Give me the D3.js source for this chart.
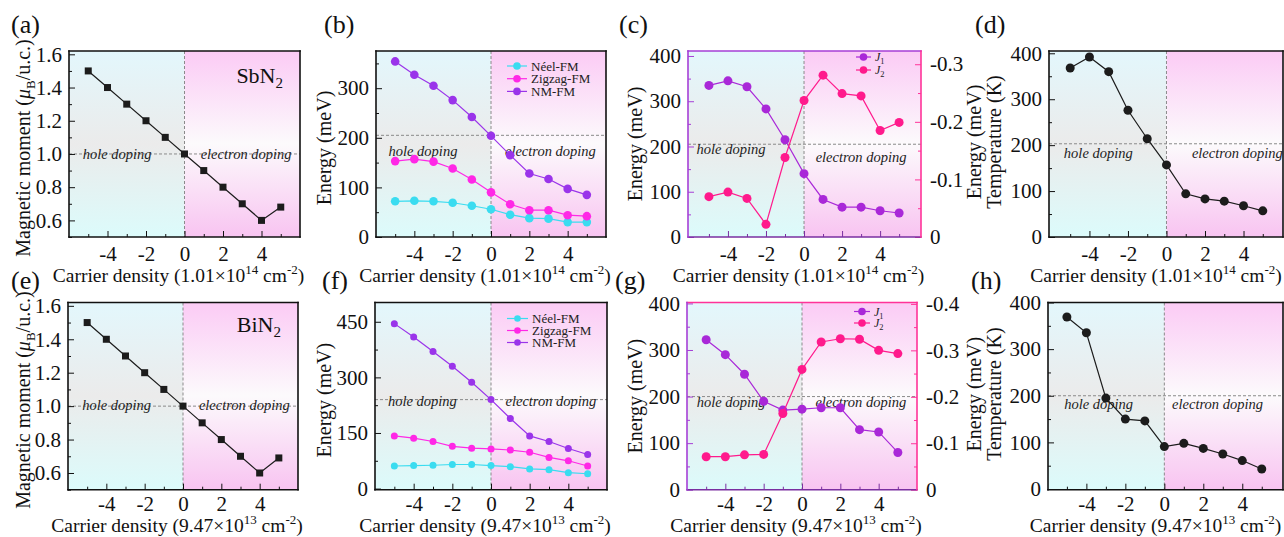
<!DOCTYPE html>
<html>
<head>
<meta charset="utf-8">
<script src="https://cdn.jsdelivr.net/npm/d3@7"></script>
<style>
  body { margin: 0; background: #fff; }
</style>
</head>
<body>
<svg id="fig" width="1284" height="537" font-family="'Liberation Serif', 'Times New Roman', serif"></svg>
<script>
// carrier density steps (same for every panel)
const carrierX = [-5, -4, -3, -2, -1, 0, 1, 2, 3, 4, 5];

// SbN2 (top row)
const momentSb = [1.5, 1.4, 1.3, 1.2, 1.1, 1.0, 0.9, 0.8, 0.7, 0.6, 0.68];
const neelSb   = [72, 73, 72, 69, 63, 56, 45, 38, 37, 30, 30];
const zigzagSb = [153, 157, 152, 138, 116, 90, 66, 54, 54, 44, 42];
const nmSb     = [354, 327, 305, 276, 242, 204, 165, 128, 117, 97, 85];
const j1Sb     = [335, 345, 332, 283, 215, 140, 83, 66, 66, 58, 53];
const j2Sb     = [-0.070, -0.078, -0.067, -0.022, -0.138, -0.237, -0.281, -0.249, -0.245, -0.185, -0.199];
const tcSb     = [368, 392, 360, 276, 214, 157, 94, 83, 78, 68, 57];

// BiN2 (bottom row)
const momentBi = [1.5, 1.4, 1.3, 1.2, 1.1, 1.0, 0.9, 0.8, 0.7, 0.6, 0.69];
const neelBi   = [61, 62, 63, 65, 65, 62, 59, 53, 51, 43, 40];
const zigzagBi = [142, 136, 127, 114, 109, 107, 104, 98, 84, 75, 61];
const nmBi     = [445, 409, 370, 330, 287, 240, 189, 142, 127, 108, 92];
const j1Bi     = [322, 290, 248, 190, 171, 173, 176, 176, 129, 124, 80];
const j2Bi     = [-0.071, -0.071, -0.075, -0.076, -0.164, -0.259, -0.318, -0.325, -0.324, -0.300, -0.293];
const tcBi     = [369, 335, 195, 150, 146, 91, 98, 87, 75, 61, 43];

// tick values
const xMajor = [-4, -2, 0, 2, 4];
const xMinor = [-5, -3, -1, 1, 3, 5];
const momentTicks = [0.6, 0.8, 1.0, 1.2, 1.4, 1.6];
const momentMinor = [0.5, 0.7, 0.9, 1.1, 1.3, 1.5];
const energyTicksB = [0, 100, 200, 300];
const energyMinorB = [50, 150, 250, 350];
const energyTicksF = [0, 150, 300, 450];
const energyMinorF = [75, 225, 375];
const energyTicks4 = [0, 100, 200, 300, 400];
const energyMinor4 = [50, 150, 250, 350];
const jTicksC = [0, -0.1, -0.2, -0.3];
const jMinorC = [-0.05, -0.15, -0.25];
const jTicksG = [0, -0.1, -0.2, -0.3, -0.4];
const jMinorG = [-0.05, -0.15, -0.25, -0.35];

const SERIF = "'Liberation Serif', 'Times New Roman', serif";
const svg = d3.select('#fig');
const defs = svg.append('defs');

// background gradients (hole side / electron side)
const gHole = defs.append('linearGradient').attr('id', 'bgHole')
    .attr('x1', 0).attr('x2', 0).attr('y1', 0).attr('y2', 1);
[['0%', '#e3f7fc'], ['50%', '#ebebeb'], ['100%', '#dcfbfb']].forEach(s =>
  gHole.append('stop').attr('offset', s[0]).attr('stop-color', s[1]));
const gElec = defs.append('linearGradient').attr('id', 'bgElec')
    .attr('x1', 0).attr('x2', 0).attr('y1', 0).attr('y2', 1);
[['0%', '#fbcbf5'], ['50%', '#fcfafc'], ['100%', '#f8c4f1']].forEach(s =>
  gElec.append('stop').attr('offset', s[0]).attr('stop-color', s[1]));

const COL = {
  neel: '#3adcf0',
  zig: '#ff28e6',
  nm: '#9a34ea',
  j1: '#a928d8',
  j2: '#ff1a8c',
  black: '#1c1c1c'
};

function fmt1(d) { return d.toFixed(1); }
function fmtInt(d) { return String(d); }

function addText(g) {
  return g.append('text').attr('font-family', SERIF);
}

function xTitle(g, cx, y, base, exp) {
  const t = addText(g).attr('x', cx).attr('y', y)
      .attr('text-anchor', 'middle').attr('font-size', 19.5).attr('fill', '#111');
  t.append('tspan').text('Carrier density (' + base + '\u00d710');
  t.append('tspan').attr('font-size', 13).attr('dy', -8).text(exp);
  t.append('tspan').attr('dy', 8).text(' cm');
  t.append('tspan').attr('font-size', 13).attr('dy', -8).text('-2');
  t.append('tspan').attr('dy', 8).text(')');
}

function drawPanel(c) {
  const g = svg.append('g');
  const x = d3.scaleLinear().domain(c.xDomain || [-6, 6]).range([c.left, c.right]);
  const y = d3.scaleLinear().domain(c.yDomain).range([c.bottom, c.top]);
  const yR = c.yRDomain ? d3.scaleLinear().domain(c.yRDomain).range([c.bottom, c.top]) : null;
  const x0 = x(0);

  // backgrounds
  g.append('rect').attr('x', c.left).attr('y', c.top)
      .attr('width', x0 - c.left).attr('height', c.bottom - c.top).attr('fill', 'url(#bgHole)');
  g.append('rect').attr('x', x0).attr('y', c.top)
      .attr('width', c.right - x0).attr('height', c.bottom - c.top).attr('fill', 'url(#bgElec)');

  // dashed guides
  g.append('line').attr('x1', x0).attr('x2', x0).attr('y1', c.top).attr('y2', c.bottom)
      .attr('stroke', '#8a8a8a').attr('stroke-width', 1).attr('stroke-dasharray', '3,2');
  g.append('line').attr('x1', c.left).attr('x2', c.right).attr('y1', y(c.dashY)).attr('y2', y(c.dashY))
      .attr('stroke', '#8a8a8a').attr('stroke-width', 1).attr('stroke-dasharray', '3,2');

  // region labels
  addText(g).attr('x', x(c.holeX)).attr('y', y(c.holeY)).attr('dy', '0.35em')
      .attr('text-anchor', 'middle').attr('font-style', 'italic').attr('font-size', 14.5)
      .attr('fill', '#222').text('hole doping');
  addText(g).attr('x', x(c.elecX)).attr('y', y(c.elecY)).attr('dy', '0.35em')
      .attr('text-anchor', 'middle').attr('font-style', 'italic').attr('font-size', 14.5)
      .attr('fill', '#222').text('electron doping');

  // series
  c.series.forEach(s => {
    const sc = s.right ? yR : y;
    const pts = carrierX.map((v, i) => [v, s.values[i]]);
    g.append('path').datum(pts)
        .attr('fill', 'none').attr('stroke', s.color).attr('stroke-width', 1.2)
        .attr('d', d3.line().x(d => x(d[0])).y(d => sc(d[1])));
    if (s.square) {
      g.selectAll(null).data(pts).join('rect')
          .attr('x', d => x(d[0]) - s.size / 2).attr('y', d => sc(d[1]) - s.size / 2)
          .attr('width', s.size).attr('height', s.size).attr('fill', s.color);
    } else {
      g.selectAll(null).data(pts).join('circle')
          .attr('cx', d => x(d[0])).attr('cy', d => sc(d[1])).attr('r', s.size)
          .attr('fill', s.color);
    }
  });

  // axes (ticks pointing inward)
  const tickFont = (sel) => {
    sel.attr('font-family', SERIF).attr('font-size', 21);
    sel.selectAll('text').attr('fill', '#111');
  };
  const bottomCol = c.bottomColor || '#111';
  const gx = g.append('g').attr('transform', `translate(0,${c.bottom})`)
      .call(d3.axisBottom(x).tickValues(xMajor).tickSize(-6).tickPadding(c.xPad).tickFormat(fmtInt));
  gx.call(tickFont);
  gx.select('.domain').remove();
  gx.selectAll('line').attr('stroke', bottomCol);
  const gxm = g.append('g').attr('transform', `translate(0,${c.bottom})`)
      .call(d3.axisBottom(x).tickValues(xMinor).tickSize(-3).tickFormat(''));
  gxm.select('.domain').remove();
  gxm.selectAll('line').attr('stroke', bottomCol);

  const leftCol = c.leftColor || '#111';
  const gy = g.append('g').attr('transform', `translate(${c.left},0)`)
      .call(d3.axisLeft(y).tickValues(c.yTicks).tickSize(-6).tickPadding(7).tickFormat(c.yFmt));
  gy.call(tickFont);
  gy.select('.domain').remove();
  gy.selectAll('line').attr('stroke', leftCol);
  const gym = g.append('g').attr('transform', `translate(${c.left},0)`)
      .call(d3.axisLeft(y).tickValues(c.yMinor).tickSize(-3).tickFormat(''));
  gym.select('.domain').remove();
  gym.selectAll('line').attr('stroke', leftCol);

  if (yR) {
    const gr = g.append('g').attr('transform', `translate(${c.right},0)`)
        .call(d3.axisRight(yR).tickValues(c.yRTicks).tickSize(-6).tickPadding(9).tickFormat(fmtInt));
    gr.call(tickFont);
    gr.select('.domain').remove();
    gr.selectAll('line').attr('stroke', c.rightColor);
    const grm = g.append('g').attr('transform', `translate(${c.right},0)`)
        .call(d3.axisRight(yR).tickValues(c.yRMinor).tickSize(-3).tickFormat(''));
    grm.select('.domain').remove();
    grm.selectAll('line').attr('stroke', c.rightColor);
  }

  // frame
  const frame = [
    [c.left, c.top, c.right, c.top, c.topColor || '#111'],
    [c.left, c.bottom, c.right, c.bottom, bottomCol],
    [c.left, c.top, c.left, c.bottom, leftCol],
    [c.right, c.top, c.right, c.bottom, c.rightColor || '#111']
  ];
  frame.forEach(f => g.append('line')
      .attr('x1', f[0]).attr('y1', f[1]).attr('x2', f[2]).attr('y2', f[3])
      .attr('stroke', f[4]).attr('stroke-width', 1.6).attr('stroke-linecap', 'square'));

  // legend
  if (c.legend) {
    c.legend.items.forEach((it, i) => {
      const ly = c.top + c.legend.y0 + i * c.legend.dy;
      const lx = c.right - c.legend.dx;
      g.append('line').attr('x1', lx).attr('x2', lx + c.legend.len).attr('y1', ly).attr('y2', ly)
          .attr('stroke', it.color).attr('stroke-width', 1.2);
      g.append('circle').attr('cx', lx + c.legend.len / 2).attr('cy', ly).attr('r', c.legend.r)
          .attr('fill', it.color);
      const t = addText(g).attr('x', lx + c.legend.len + 4).attr('y', ly).attr('dy', '0.35em')
          .attr('font-size', c.legend.font).attr('fill', '#222');
      if (it.sub) {
        t.append('tspan').attr('font-style', 'italic').text(it.label);
        t.append('tspan').attr('font-size', c.legend.font * 0.7).attr('dy', 3).text(it.sub);
      } else {
        t.text(it.label);
      }
    });
  }

  // compound name
  if (c.compound) {
    const t = addText(g).attr('x', c.right - 17).attr('y', c.top + c.compound.dy)
        .attr('text-anchor', 'end').attr('font-size', 22).attr('fill', '#111');
    t.append('tspan').text(c.compound.name);
    t.append('tspan').attr('font-size', 15).attr('dy', 5).text('2');
  }

  // y title(s)
  const cy = (c.top + c.bottom) / 2 + (c.yTitleShift || 0);
  c.yTitle.forEach(tt => {
    const t = addText(g)
        .attr('transform', `translate(${tt.x},${cy}) rotate(-90)`)
        .attr('text-anchor', 'middle').attr('font-size', 20).attr('fill', '#111');
    if (tt.moment) {
      t.append('tspan').text('Magnetic moment (');
      t.append('tspan').attr('font-style', 'italic').text('\u03bc');
      t.append('tspan').attr('font-size', 13).attr('dy', 5).text('B');
      t.append('tspan').attr('dy', -5).text('/u.c.)');
    } else {
      t.text(tt.text);
    }
  });

  // x title
  xTitle(g, (c.left + c.right) / 2 - 6 + (c.xTitleShift || 0), c.bottom + c.xTitleDy, c.xBase, c.xExp);

  // panel letter
  addText(g).attr('x', c.letterX).attr('y', c.letterY)
      .attr('font-size', 26).attr('fill', '#111').text(c.letter);
}

const row1 = { top: 51, bottom: 237, xBase: '1.01', xExp: '14', letterY: 33, xTitleDy: 45, xPad: 9 };
const row2 = { top: 302.5, bottom: 489.7, xBase: '9.47', xExp: '13', letterY: 289, xTitleDy: 42.5, xPad: 6 };

// (a)
drawPanel(Object.assign({}, row1, {
  left: 69, right: 300, letter: '(a)', letterX: 11,
  yDomain: [0.5, 1.62], yTicks: momentTicks, yMinor: momentMinor, yFmt: fmt1,
  dashY: 1.0, holeX: -3.5, holeY: 1.0, elecX: 3.2, elecY: 1.0,
  series: [{ values: momentSb, color: COL.black, square: true, size: 7 }],
  compound: { name: 'SbN', dy: 32 },
  yTitle: [{ x: 30, moment: true }], yTitleShift: 4
}));
// (b)
drawPanel(Object.assign({}, row1, {
  left: 376, right: 606, letter: '(b)', letterX: 324,
  yDomain: [0, 375], yTicks: energyTicksB, yMinor: energyMinorB, yFmt: fmtInt,
  dashY: 205, holeX: -3.55, holeY: 174, elecX: 3.1, elecY: 174,
  series: [
    { values: neelSb, color: COL.neel, size: 4.3 },
    { values: zigzagSb, color: COL.zig, size: 4.3 },
    { values: nmSb, color: COL.nm, size: 4.3 }
  ],
  legend: { y0: 15, dy: 12.7, dx: 99, len: 20, r: 3.8, font: 13,
    items: [{ label: 'Néel-FM', color: COL.neel }, { label: 'Zigzag-FM', color: COL.zig }, { label: 'NM-FM', color: COL.nm }] },
  yTitle: [{ x: 331, text: 'Energy (meV)' }], yTitleShift: 4
}));
// (c)
drawPanel(Object.assign({}, row1, {
  left: 688, right: 921, letter: '(c)', letterX: 619, xDomain: [-6.1, 6.15],
  yDomain: [0, 411], yTicks: energyTicks4, yMinor: energyMinor4, yFmt: fmtInt,
  yRDomain: [0, -0.323], yRTicks: jTicksC, yRMinor: jMinorC,
  leftColor: '#a63fd6', topColor: '#a63fd6', bottomColor: '#7a2fa0', rightColor: '#ff3399',
  dashY: 205, holeX: -3.84, holeY: 194, elecX: 3.0, elecY: 178,
  series: [
    { values: j1Sb, color: COL.j1, size: 4.5 },
    { values: j2Sb, color: COL.j2, size: 4.5, right: true }
  ],
  legend: { y0: 6, dy: 13, dx: 65, len: 15, r: 3.8, font: 12,
    items: [{ label: 'J', sub: '1', color: COL.j1 }, { label: 'J', sub: '2', color: COL.j2 }] },
  yTitle: [{ x: 642, text: 'Energy (meV)' }]
}));
// (d)
drawPanel(Object.assign({}, row1, {
  left: 1049, right: 1283, letter: '(d)', letterX: 975, xDomain: [-6.1, 6.05],
  yDomain: [0, 405], yTicks: energyTicks4, yMinor: energyMinor4, yFmt: fmtInt,
  dashY: 203, holeX: -3.54, holeY: 183, elecX: 3.68, elecY: 183,
  series: [{ values: tcSb, color: COL.black, size: 4.5 }],
  yTitle: [{ x: 981, text: 'Energy (meV)' }, { x: 1001, text: 'Temperature (K)' }], yTitleShift: -2,
  xTitleShift: -4
}));
// (e)
drawPanel(Object.assign({}, row2, {
  left: 68, right: 298, letter: '(e)', letterX: 11,
  yDomain: [0.5, 1.62], yTicks: momentTicks, yMinor: momentMinor, yFmt: fmt1,
  dashY: 1.0, holeX: -3.46, holeY: 1.01, elecX: 3.2, elecY: 1.01,
  series: [{ values: momentBi, color: COL.black, square: true, size: 7 }],
  compound: { name: 'BiN', dy: 29 },
  yTitle: [{ x: 30, moment: true }], yTitleShift: 4
}));
// (f)
drawPanel(Object.assign({}, row2, {
  left: 375, right: 607, letter: '(f)', letterX: 322,
  yDomain: [-3, 502], yTicks: energyTicksF, yMinor: energyMinorF, yFmt: fmtInt,
  dashY: 240, holeX: -3.55, holeY: 236, elecX: 3.1, elecY: 236,
  series: [
    { values: neelBi, color: COL.neel, size: 3.5 },
    { values: zigzagBi, color: COL.zig, size: 3.5 },
    { values: nmBi, color: COL.nm, size: 3.5 }
  ],
  legend: { y0: 16, dy: 12, dx: 100, len: 21, r: 3.3, font: 13,
    items: [{ label: 'Néel-FM', color: COL.neel }, { label: 'Zigzag-FM', color: COL.zig }, { label: 'NM-FM', color: COL.nm }] },
  yTitle: [{ x: 331, text: 'Energy (meV)' }], yTitleShift: 4
}));
// (g)
drawPanel(Object.assign({}, row2, {
  left: 687, right: 917, letter: '(g)', letterX: 615,
  yDomain: [0, 402], yTicks: energyTicks4, yMinor: energyMinor4, yFmt: fmtInt,
  yRDomain: [0, -0.403], yRTicks: jTicksG, yRMinor: jMinorG,
  leftColor: '#a63fd6', topColor: '#ff3399', bottomColor: '#7a2fa0', rightColor: '#ff3399',
  dashY: 200, holeX: -3.7, holeY: 188, elecX: 3.07, elecY: 188,
  series: [
    { values: j1Bi, color: COL.j1, size: 4.5 },
    { values: j2Bi, color: COL.j2, size: 4.5, right: true }
  ],
  legend: { y0: 9, dy: 11.5, dx: 63, len: 16, r: 3.8, font: 12,
    items: [{ label: 'J', sub: '1', color: COL.j1 }, { label: 'J', sub: '2', color: COL.j2 }] },
  yTitle: [{ x: 642, text: 'Energy (meV)' }]
}));
// (h)
drawPanel(Object.assign({}, row2, {
  left: 1048, right: 1283, letter: '(h)', letterX: 971, xDomain: [-5.97, 6.09],
  yDomain: [-1.5, 400], yTicks: energyTicks4, yMinor: energyMinor4, yFmt: fmtInt,
  dashY: 200, holeX: -3.37, holeY: 182, elecX: 2.73, elecY: 182,
  series: [{ values: tcBi, color: COL.black, size: 4.5 }],
  yTitle: [{ x: 981, text: 'Energy (meV)' }, { x: 1001, text: 'Temperature (K)' }], yTitleShift: -2,
  xTitleShift: -4
}));
</script>
</body>
</html>
